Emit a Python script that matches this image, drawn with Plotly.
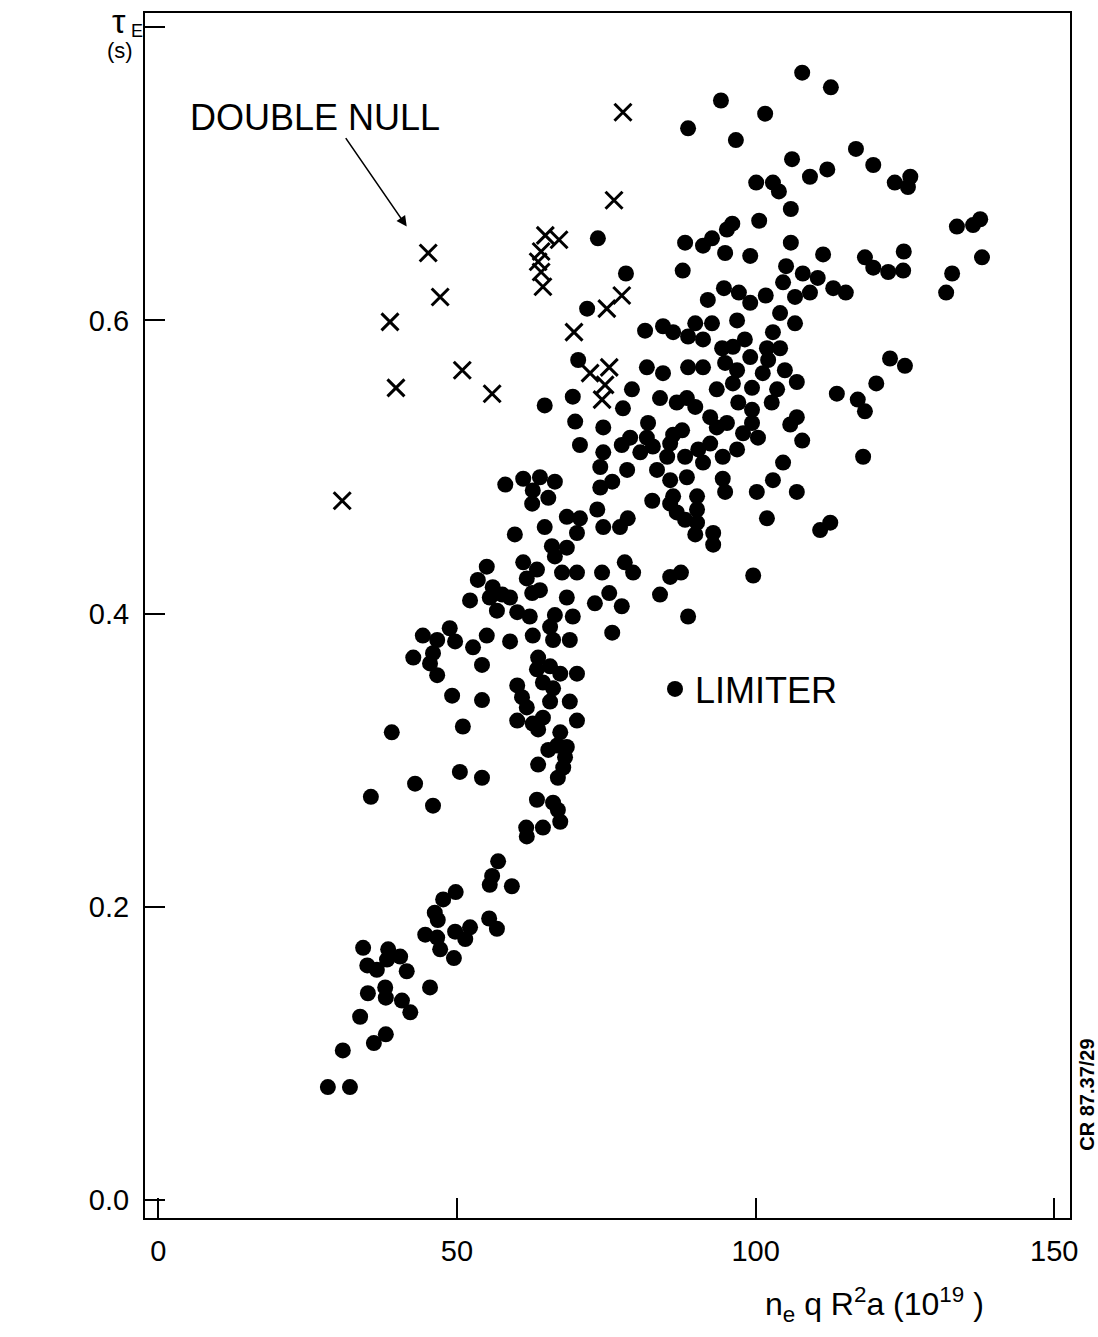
import plotly.graph_objects as go

# Energy confinement time vs n_e q R^2 a -- limiter and double-null discharges
limiter_x = [
    # upper region
    107.8, 112.6, 94.2, 88.7, 101.6, 96.7, 116.8, 106.1, 119.7, 109.1, 112.0, 100.1, 102.9,
    103.9, 123.3, 125.9, 125.5, 105.9, 100.6, 96.1, 95.2, 133.7, 136.4, 137.6, 137.9, 105.9,
    111.3, 99.1, 118.3, 119.7, 124.8, 105.1, 88.2, 91.2, 92.7, 94.9, 73.6,
    # central band
    78.3, 87.8, 104.6, 107.9, 110.4, 113.0, 109.1, 94.7, 97.2, 99.1, 101.7, 106.6, 92.0,
    104.1, 106.6, 96.9, 71.8, 81.5, 84.5, 86.2, 89.9, 92.7, 88.7, 91.2, 102.9, 98.2, 101.9,
    104.1, 94.4, 96.2, 99.1, 94.9, 96.9, 102.1, 101.2, 104.9, 106.9, 88.7, 91.2, 81.8, 84.5,
    70.3, 99.4, 103.6, 102.7, 113.6, 93.5, 96.2, 97.1, 86.8, 88.5, 89.9, 79.3, 84.0, 77.8,
    69.4, 92.4, 99.4, 106.9, 105.8, 99.4, 69.8, 74.5, 82.0, 87.7, 86.2, 93.5, 95.2, 97.9,
    100.4, 107.8, 81.8, 82.8, 79.0, 77.6, 70.6, 74.5, 74.0, 80.7, 85.7, 85.2, 88.2, 90.4,
    92.4, 91.2, 94.5, 96.9, 78.5, 83.5, 85.7, 88.5, 104.6, 102.9, 94.5, 94.9, 100.2, 106.9,
    74.0, 76.0, 82.7, 85.7, 86.2, 90.2, 86.8, 90.2, 88.2, 90.2, 89.9, 92.9, 92.9, 101.9,
    110.8, 112.5, 78.6, 77.3, 73.5, 74.5, 70.6, 70.1,
    # right-hand group
    132.9, 131.9, 122.2, 124.7, 115.1, 122.5, 125.0, 120.2, 117.1, 118.3, 118.0,
    # middle-left group
    58.1, 61.1, 63.9, 66.4, 62.7, 62.6, 65.3, 68.4, 65.9, 68.4, 64.7, 59.7, 66.4, 61.1,
    63.4, 61.7, 67.6, 70.1, 55.0, 53.5, 52.2, 56.0, 55.5, 57.6, 58.9, 56.7, 60.1, 62.2,
    62.6, 63.9, 68.4, 69.4, 66.4, 65.6, 66.1, 68.9, 48.8, 44.3, 46.7, 49.7, 42.7, 46.0,
    45.5, 46.7, 52.7, 55.0, 58.9, 62.7, 54.2, 63.6, 63.4, 65.6, 67.3, 64.4, 66.1, 70.1,
    65.6, 68.9, 60.1, 60.9, 61.7, 60.1, 62.7, 64.4, 63.6, 67.3, 70.1, 49.2, 54.2, 51.0,
    39.1, 64.7,
    # lower-middle group
    78.1, 79.5, 74.3, 85.7, 87.5, 99.6, 84.0, 75.5, 73.1, 77.6, 88.7, 76.0,
    # low-density tail
    66.8, 68.4, 65.3, 68.1, 67.8, 66.9, 63.6, 50.5, 54.2, 43.0, 35.6, 46.0, 63.4, 66.1,
    66.9, 67.3, 64.4, 61.6, 61.7, 56.9, 55.9, 55.5, 59.2, 49.8, 47.7, 46.3, 46.8, 55.4,
    56.7, 44.7, 46.7, 49.7, 52.2, 51.4, 47.2, 49.5, 34.3, 38.5, 40.5, 38.3, 35.0, 36.6,
    41.6, 45.5, 35.1, 38.0, 38.1, 40.8, 42.2, 33.8, 38.1, 36.1, 30.9, 28.4, 32.1,
]
limiter_tau = [
    # upper region
    0.769, 0.759, 0.750, 0.731, 0.741, 0.723, 0.717, 0.710, 0.706, 0.698, 0.703, 0.694, 0.694,
    0.688, 0.694, 0.698, 0.691, 0.676, 0.668, 0.666, 0.662, 0.664, 0.665, 0.669, 0.643, 0.653,
    0.645, 0.644, 0.643, 0.636, 0.647, 0.637, 0.653, 0.651, 0.656, 0.646, 0.656,
    # central band
    0.632, 0.634, 0.626, 0.632, 0.629, 0.622, 0.619, 0.622, 0.619, 0.612, 0.617, 0.616, 0.614,
    0.605, 0.598, 0.600, 0.608, 0.593, 0.596, 0.592, 0.598, 0.598, 0.589, 0.587, 0.592, 0.587, 0.581,
    0.581, 0.581, 0.582, 0.575, 0.571, 0.566, 0.573, 0.564, 0.566, 0.558, 0.568, 0.568, 0.568, 0.564,
    0.573, 0.554, 0.553, 0.544, 0.550, 0.553, 0.557, 0.544, 0.544, 0.547, 0.541, 0.553, 0.547, 0.540,
    0.548, 0.534, 0.539, 0.534, 0.529, 0.530, 0.531, 0.527, 0.530, 0.525, 0.522, 0.527, 0.530, 0.523,
    0.520, 0.518, 0.520, 0.514, 0.520, 0.515, 0.515, 0.510, 0.500, 0.510, 0.516, 0.507, 0.507, 0.512,
    0.516, 0.503, 0.507, 0.512, 0.498, 0.498, 0.491, 0.493, 0.503, 0.491, 0.492, 0.483, 0.483, 0.483,
    0.486, 0.490, 0.477, 0.475, 0.480, 0.480, 0.469, 0.471, 0.464, 0.462, 0.454, 0.455, 0.447, 0.465,
    0.457, 0.462, 0.465, 0.459, 0.471, 0.459, 0.465, 0.455,
    # right-hand group
    0.632, 0.619, 0.633, 0.634, 0.619, 0.574, 0.569, 0.557, 0.546, 0.538, 0.507,
    # middle-left group
    0.488, 0.492, 0.493, 0.490, 0.484, 0.475, 0.479, 0.466, 0.446, 0.445, 0.459, 0.454, 0.439, 0.435,
    0.430, 0.424, 0.428, 0.428, 0.432, 0.423, 0.409, 0.418, 0.411, 0.413, 0.411, 0.402, 0.401, 0.398,
    0.414, 0.416, 0.411, 0.398, 0.399, 0.391, 0.382, 0.382, 0.390, 0.385, 0.382, 0.381, 0.370, 0.373,
    0.366, 0.358, 0.377, 0.385, 0.381, 0.385, 0.365, 0.370, 0.362, 0.364, 0.359, 0.353, 0.349, 0.359,
    0.340, 0.340, 0.351, 0.343, 0.336, 0.327, 0.325, 0.329, 0.321, 0.319, 0.327, 0.344, 0.341, 0.323,
    0.319, 0.542,
    # lower-middle group
    0.435, 0.428, 0.428, 0.425, 0.428, 0.426, 0.413, 0.414, 0.407, 0.405, 0.398, 0.387,
    # low-density tail
    0.310, 0.309, 0.307, 0.302, 0.295, 0.288, 0.297, 0.292, 0.288, 0.284, 0.275, 0.269, 0.273, 0.271,
    0.266, 0.258, 0.254, 0.254, 0.248, 0.231, 0.221, 0.215, 0.214, 0.210, 0.205, 0.196, 0.191, 0.192,
    0.185, 0.181, 0.179, 0.183, 0.186, 0.178, 0.171, 0.165, 0.172, 0.171, 0.166, 0.164, 0.160, 0.157,
    0.156, 0.145, 0.141, 0.145, 0.138, 0.136, 0.128, 0.125, 0.113, 0.107, 0.102, 0.077, 0.077,
]

double_null_x = [30.8, 38.8, 39.8, 45.2, 47.2, 50.9, 55.9, 77.8, 76.3, 69.6, 75.1, 77.6,
                 64.8, 67.1, 64.1, 63.6, 64.1, 64.4, 72.3, 75.5, 74.8, 74.3]
double_null_tau = [0.477, 0.599, 0.554, 0.646, 0.616, 0.566, 0.550, 0.742, 0.682, 0.592, 0.608, 0.617,
                   0.658, 0.655, 0.647, 0.640, 0.633, 0.623, 0.564, 0.568, 0.556, 0.546]

x_ticks = [0, 50, 100, 150]
x_tick_text = ["0", "50", "100", "150"]
y_ticks = [0.0, 0.2, 0.4, 0.6, 0.8]
y_tick_text = ["0.0", "0.2", "0.4", "0.6", ""]

FONT = "Liberation Sans"
INK = "black"

fig = go.Figure()

fig.add_trace(go.Scatter(
    x=limiter_x, y=limiter_tau, mode="markers", name="LIMITER",
    marker=dict(symbol="circle", size=16, color=INK, line=dict(width=0)),
    showlegend=True,
))

fig.add_trace(go.Scatter(
    x=double_null_x, y=double_null_tau, mode="markers", name="DOUBLE NULL",
    marker=dict(symbol="x-thin", size=17, color=INK, line=dict(width=3, color=INK)),
    showlegend=False,
))

axis_common = dict(
    showline=True, linecolor=INK, linewidth=2, mirror=True,
    ticks="inside", ticklen=20, tickwidth=2, tickcolor=INK,
    showgrid=False, zeroline=False,
    tickfont=dict(family=FONT, size=29, color=INK),
)

fig.update_xaxes(range=[-2.21, 152.63], tickvals=x_ticks, ticktext=x_tick_text,
                 ticklabelstandoff=6, **axis_common)
fig.update_yaxes(range=[-0.0123, 0.8097], tickvals=y_ticks, ticktext=y_tick_text,
                 ticklabelstandoff=8, **axis_common)


def paper_x(px):
    return (px - 145) / 925


def paper_y(py):
    return (1218 - py) / 1205


# y-axis title: tau_E over (s)
fig.add_annotation(xref="paper", yref="paper", x=paper_x(119), y=paper_y(21),
                   xanchor="center", yanchor="middle", text="τ", showarrow=False,
                   font=dict(family=FONT, size=34, color=INK))
fig.add_annotation(xref="paper", yref="paper", x=paper_x(137), y=paper_y(31),
                   xanchor="center", yanchor="middle", text="E", showarrow=False,
                   font=dict(family=FONT, size=18, color=INK))
fig.add_annotation(xref="paper", yref="paper", x=paper_x(120), y=paper_y(50),
                   xanchor="center", yanchor="middle", text="(s)", showarrow=False,
                   font=dict(family=FONT, size=22, color=INK))

# x-axis title
fig.add_annotation(xref="paper", yref="paper", x=0.789, y=-0.072, xanchor="center", yanchor="middle",
                   text="n<sub>e</sub> q R<sup>2</sup>a (10<sup>19</sup> )", showarrow=False,
                   font=dict(family=FONT, size=32, color=INK))

# double-null label and pointer
fig.add_annotation(xref="paper", yref="paper", x=paper_x(315), y=paper_y(117),
                   xanchor="center", yanchor="middle", text="DOUBLE NULL", showarrow=False,
                   font=dict(family=FONT, size=36, color=INK))
fig.add_annotation(x=41.6, y=0.664, xref="x", yref="y", text="", showarrow=True,
                   ax=-62, ay=-90, arrowhead=2, arrowsize=1.3, arrowwidth=1.6, arrowcolor=INK)

# figure reference code
fig.add_annotation(xref="paper", yref="paper", x=1.018, y=0.102, xanchor="center", yanchor="middle",
                   text="<b>CR 87.37/29</b>", textangle=-90, showarrow=False,
                   font=dict(family=FONT, size=20, color=INK))

fig.update_layout(
    width=1098, height=1337,
    margin=dict(l=145, r=28, t=13, b=119),
    paper_bgcolor="white", plot_bgcolor="white",
    legend=dict(x=paper_x(655), y=paper_y(689), xanchor="left", yanchor="middle",
                bgcolor="rgba(0,0,0,0)", borderwidth=0, itemwidth=30,
                font=dict(family=FONT, size=36, color=INK)),
)

fig.write_html("out.html")
